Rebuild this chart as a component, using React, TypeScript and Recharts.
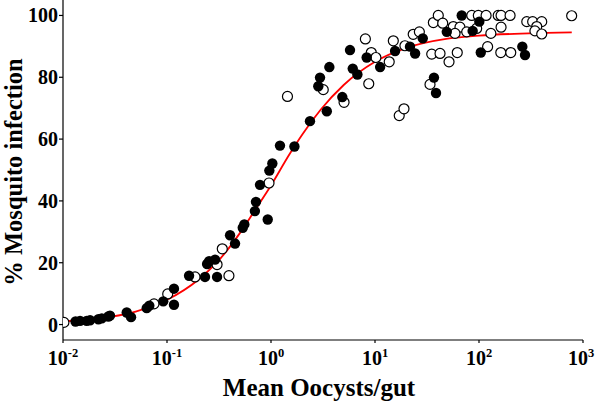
import React from 'react';
import { ComposedChart, Scatter, Line, XAxis, YAxis } from 'recharts';

// Filled circles (mean oocysts/gut, % infection)
const filledX = [0.0132, 0.0146, 0.0169, 0.0182, 0.0219, 0.0236, 0.0273, 0.0283, 0.041, 0.0451, 0.0638, 0.0676, 0.092, 0.1167, 0.1167, 0.163, 0.232, 0.243, 0.254, 0.303, 0.29, 0.404, 0.451, 0.535, 0.554, 0.70, 0.717, 0.784, 0.93, 0.964, 1.03, 1.22, 1.68, 2.37, 3.44, 2.85, 2.96, 3.64, 4.85, 5.75, 6.11, 6.77, 8.32, 11.2, 15.6, 21.7, 24.3, 28.8, 36.9, 38.6, 68.2, 49, 86.9, 100.7, 104, 261, 277];
const filledY = [1.0, 1.2, 1.2, 1.4, 1.7, 2.0, 2.6, 2.9, 3.9, 2.4, 5.3, 6.1, 7.5, 11.6, 6.4, 15.8, 15.4, 19.6, 20.5, 15.4, 21.0, 28.9, 26.2, 31.3, 32.4, 36.7, 39.7, 45.2, 34.0, 49.8, 52.1, 57.9, 57.6, 65.8, 69.0, 77.1, 79.9, 83.3, 73.6, 88.8, 82.8, 80.9, 86.4, 83.3, 88.5, 89.9, 87.7, 92.6, 79.9, 74.9, 100, 94.7, 95.0, 98.0, 88.0, 89.9, 87.2];

// Open circles
const openX = [0.0102, 0.075, 0.1016, 0.186, 0.303, 0.394, 0.34, 0.957, 1.44, 3.18, 5.04, 8.71, 8.08, 9.21, 10.2, 13.7, 15.0, 19.4, 23.3, 26.7, 35.1, 33.8, 17.1, 19.0, 36.4, 40.6, 44.8, 85.2, 98.5, 117, 153, 163, 199, 56.6, 65.6, 76.2, 58.8, 95, 130, 163, 42.2, 51.5, 61.8, 121, 162, 202, 288, 328, 401, 359, 345, 401, 778];
const openY = [0.7, 6.7, 9.9, 15.4, 19.4, 15.8, 24.5, 45.8, 73.8, 76.0, 71.9, 77.9, 92.4, 88.0, 86.4, 85.0, 91.8, 90.2, 93.9, 94.7, 87.5, 77.7, 67.6, 69.8, 97.7, 100, 97.5, 100, 100, 100, 100, 100, 100, 96.4, 96.2, 94.7, 94.2, 95.8, 94.2, 96.2, 87.7, 85.0, 88.0, 89.9, 88.0, 88.0, 98.0, 98.0, 98.0, 96.4, 95.0, 94.0, 99.9];

// Fitted curve
const curveX = [0.01, 0.02, 0.05, 0.1, 0.2, 0.3, 0.5, 0.7, 1, 1.5, 2, 3, 5, 10, 20, 50, 100, 300, 780];
const curveY = [1, 1.8, 4.2, 8, 14.5, 20, 29.5, 37, 45, 55, 61.5, 69.5, 77.5, 85, 89.5, 92.5, 93.5, 94.2, 94.5];

const xTicks = [0.01, 0.1, 1, 10, 100, 1000];
const xTickExp = ['-2', '-1', '0', '1', '2', '3'];
const yTicks = [0, 20, 40, 60, 80, 100];

const xTitle = 'Mean Oocysts/gut';
const yTitle = '% Mosquito infection';

const filledData = filledX.map((x, i) => ({ x, y: filledY[i] }));
const openData = openX.map((x, i) => ({ x, y: openY[i] }));
const curveData = curveX.map((x, i) => ({ x, y: curveY[i] }));

const FONT = '"Liberation Serif", "Times New Roman", serif';

const XTick = (props: any) => {
  const { x, y, payload } = props;
  const idx = xTicks.indexOf(payload.value);
  const exp = xTickExp[idx] ?? '';
  return (
    <text x={x} y={y + 20} textAnchor="middle" fontFamily={FONT} fontWeight="bold" fontSize={20} fill="#000">
      <tspan>10</tspan>
      <tspan fontSize={12.5} dy={-8}>{exp}</tspan>
    </text>
  );
};

const YTick = (props: any) => {
  const { x, y, payload } = props;
  return (
    <text x={x + 1} y={y + 7} textAnchor="end" fontFamily={FONT} fontWeight="bold" fontSize={20} fill="#000">
      {payload.value}
    </text>
  );
};

const XTitle = () => (
  <text x={319} y={396} textAnchor="middle" fontFamily={FONT} fontWeight="bold" fontSize={25} fill="#000">
    {xTitle}
  </text>
);

const YTitle = () => (
  <text x={-172} y={22} transform="rotate(-90)" textAnchor="middle" fontFamily={FONT} fontWeight="bold" fontSize={24.5} fill="#000">
    {yTitle}
  </text>
);

const OpenDot = (props: any) => {
  const { cx, cy } = props;
  return <circle cx={cx} cy={cy} r={5} fill="#fff" stroke="#000" strokeWidth={1.2} />;
};
const FilledDot = (props: any) => {
  const { cx, cy } = props;
  return <circle cx={cx} cy={cy} r={5.2} fill="#000" stroke="none" />;
};

export default function App() {
  return (
    <div style={{ position: 'absolute', left: 0, top: 0, width: 597, height: 402, background: '#fff' }}>
      <ComposedChart width={597} height={402} margin={{ top: 0, right: 14, bottom: 0, left: 0 }}>
        <XAxis
          dataKey="x"
          type="number"
          scale="log"
          domain={[0.01, 1000]}
          ticks={xTicks}
          allowDataOverflow
          height={62}
          tick={<XTick />}
          tickSize={3}
          axisLine={{ stroke: '#000', strokeWidth: 1.2 }}
          tickLine={{ stroke: '#000', strokeWidth: 1.2 }}
          label={<XTitle />}
        />
        <YAxis
          dataKey="y"
          type="number"
          domain={[-5, 105]}
          ticks={yTicks}
          allowDataOverflow
          width={63}
          tick={<YTick />}
          tickSize={4}
          axisLine={{ stroke: '#000', strokeWidth: 1.2 }}
          tickLine={{ stroke: '#000', strokeWidth: 1.2 }}
          label={<YTitle />}
        />
        <Scatter data={openData} shape={<OpenDot />} isAnimationActive={false} />
        <Scatter data={filledData} shape={<FilledDot />} isAnimationActive={false} />
        <Line data={curveData} dataKey="y" type="monotone" stroke="#ff0000" strokeWidth={1.8} dot={false} activeDot={false} isAnimationActive={false} />
      </ComposedChart>
    </div>
  );
}
